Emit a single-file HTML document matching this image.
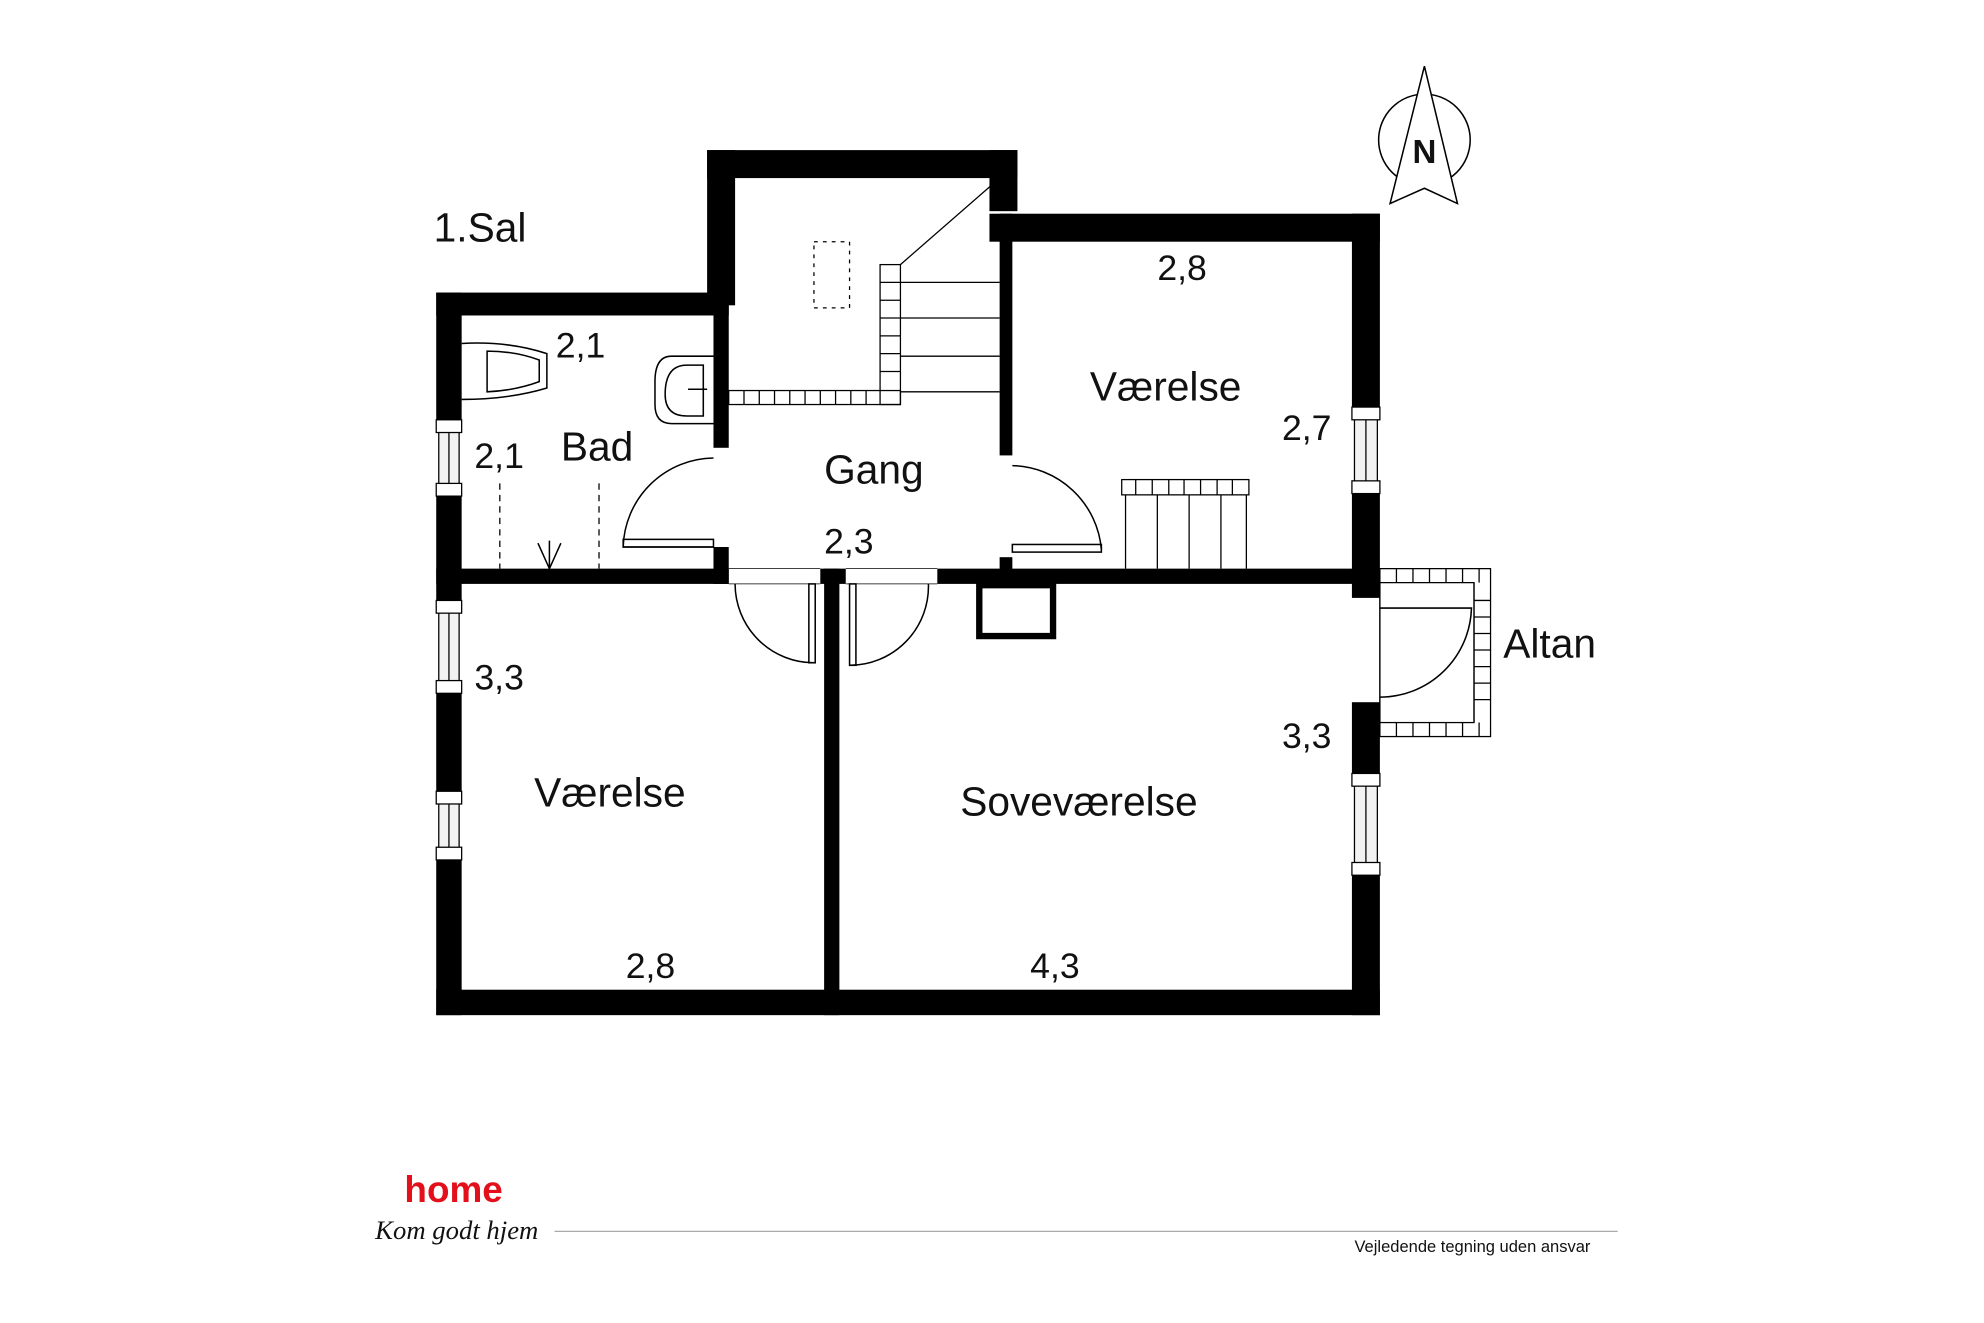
<!DOCTYPE html>
<html><head><meta charset="utf-8"><style>
html,body{margin:0;padding:0;background:#fff}
svg{display:block}
text{font-family:"Liberation Sans","DejaVu Sans",sans-serif;fill:#111}
</style></head><body>
<svg width="1984" height="1323" viewBox="0 0 1560 1040" preserveAspectRatio="none" xmlns="http://www.w3.org/2000/svg">
<rect width="1560" height="1040" fill="#fff"/>
<g fill="#000">
<!-- left outer wall segments -->
<rect x="343" y="230" width="20" height="100"/>
<rect x="343" y="390" width="20" height="82"/>
<rect x="343" y="545" width="20" height="77"/>
<rect x="343" y="676" width="20" height="122"/>
<!-- bad top -->
<rect x="343" y="230" width="230" height="18"/>
<!-- stair walls -->
<rect x="556" y="118" width="22" height="122"/>
<rect x="556" y="118" width="244" height="22"/>
<rect x="778" y="118" width="22" height="48"/>
<!-- bad/gang wall -->
<rect x="561" y="240" width="12" height="112"/>
<rect x="561" y="430" width="12" height="29"/>
<!-- værelse top -->
<rect x="778" y="168" width="307" height="22"/>
<rect x="786" y="168" width="10" height="190"/>
<rect x="786" y="438" width="10" height="20"/>
<!-- right outer wall -->
<rect x="1063" y="168" width="22" height="152"/>
<rect x="1063" y="388" width="22" height="82"/>
<rect x="1063" y="552" width="22" height="56"/>
<rect x="1063" y="688" width="22" height="110"/>
<!-- middle wall -->
<rect x="343" y="447" width="230" height="12"/>
<rect x="645" y="447" width="20" height="12"/>
<rect x="737" y="447" width="348" height="12"/>
<rect x="648" y="447" width="12" height="351"/>
<!-- bottom -->
<rect x="343" y="778" width="742" height="20"/>
</g>
<!-- chimney -->
<rect x="770" y="460" width="58" height="40" fill="none" stroke="#000" stroke-width="5"/>
<!-- windows -->
<g fill="#f2f2f2" stroke="#000" stroke-width="1">
<rect x="345" y="330" width="16" height="60"/><rect x="345" y="472" width="16" height="73"/><rect x="345" y="622" width="16" height="54"/>
<rect x="1065" y="320" width="18" height="68"/><rect x="1065" y="608" width="18" height="80"/>
</g>
<g stroke="#000" fill="#fff" stroke-width="1">
<rect x="343" y="330" width="20" height="10"/><rect x="343" y="380" width="20" height="10"/>
<rect x="343" y="472" width="20" height="10"/><rect x="343" y="535" width="20" height="10"/>
<rect x="343" y="622" width="20" height="10"/><rect x="343" y="666" width="20" height="10"/>
<rect x="1063" y="320" width="22" height="10"/><rect x="1063" y="378" width="22" height="10"/>
<rect x="1063" y="608" width="22" height="10"/><rect x="1063" y="678" width="22" height="10"/>
<line x1="353" y1="340" x2="353" y2="380"/><line x1="353" y1="482" x2="353" y2="535"/><line x1="353" y1="632" x2="353" y2="666"/>
<line x1="1074" y1="330" x2="1074" y2="378"/><line x1="1074" y1="618" x2="1074" y2="678"/>
</g>
<!-- doors -->
<g fill="none" stroke="#000" stroke-width="1.2">
<path d="M561 360 A72 72 0 0 0 490 430 L561 430"/>
<rect x="490" y="424" width="71" height="6"/>
<path d="M796 366 A72 72 0 0 1 866 432"/>
<rect x="796" y="428" width="70" height="6"/>
<path d="M578 459 A62 62 0 0 0 640 521"/><rect x="636" y="459" width="5" height="62"/>
<path d="M730 459 A62 62 0 0 1 668 523"/><rect x="668" y="459" width="5" height="64"/>
<path d="M1085 478 L1157 478 A72 72 0 0 1 1085 548"/>
<line x1="573" y1="447" x2="645" y2="447" stroke-width=".6"/><line x1="573" y1="459" x2="645" y2="459" stroke-width=".6"/>
<line x1="665" y1="447" x2="737" y2="447" stroke-width=".6"/><line x1="665" y1="459" x2="737" y2="459" stroke-width=".6"/>
</g>
<!-- altan -->
<g fill="none" stroke="#000" stroke-width="1">
<rect x="1085" y="447" width="87" height="132"/>
<rect x="1085" y="458" width="74" height="110"/>
<path d="M1159 458 V568" stroke-dasharray="0"/>
</g>
<g stroke="#000" stroke-width="1">
<path d="M1098 447v11M1111 447v11M1124 447v11M1137 447v11M1150 447v11M1163 447v11M1098 568v11M1111 568v11M1124 568v11M1137 568v11M1150 568v11M1163 568v11M1159 472h13M1159 485h13M1159 498h13M1159 511h13M1159 524h13M1159 537h13M1159 550h13"/>
</g>
<!-- stairs -->
<g fill="none" stroke="#000" stroke-width="1">
<rect x="692" y="208" width="16" height="110"/>
<rect x="573" y="307" width="135" height="11"/>
<path d="M708 208 L786 140"/>
<path d="M708 222h78M708 250h78M708 280h78M708 308h78M692 222h16M692 236h16M692 250h16M692 264h16M692 278h16M692 292h16"/>
<path d="M585 307v11M597 307v11M609 307v11M621 307v11M633 307v11M645 307v11M657 307v11M669 307v11M681 307v11"/>
<rect x="640" y="190" width="28" height="52" stroke-dasharray="3 4"/>
</g>
<!-- bathroom fixtures -->
<g fill="none" stroke="#000" stroke-width="1.2">
<path d="M363 270 Q400 268 430 278 L430 305 Q400 314 363 314"/>
<path d="M383 276 Q405 276 424 283 L424 300 Q405 307 383 308 Z"/>
<path d="M561 280 L528 280 Q515 280 515 300 L515 318 Q515 333 528 333 L561 333"/>
<path d="M540 287 H553 V327 H540 Q523 327 523 310 Q523 287 540 287 Z"/>
<path d="M541 306h15"/>
<path d="M393 380V447M471 380V447" stroke-dasharray="5 4" stroke-width="1"/>
<path d="M423 427L432 447L441 427M432 447V425"/>
</g>
<!-- radiator -->
<g fill="none" stroke="#000" stroke-width="1">
<rect x="882" y="377" width="100" height="12"/>
<path d="M893 377v12M906 377v12M919 377v12M931 377v12M944 377v12M957 377v12M969 377v12"/>
<path d="M885 389V447M910 389V447M935 389V447M960 389V447M980 389V447"/>
</g>
<!-- north arrow -->
<g fill="none" stroke="#000" stroke-width="1.2">
<circle cx="1120" cy="110" r="36"/>
<path d="M1093 160 L1120 52 L1146 160 L1120 148 Z" fill="#fff"/>
</g>
<text x="1120" y="128" font-size="26" font-weight="bold" text-anchor="middle">N</text>
<!-- labels -->
<g font-size="30">
<text x="341" y="190" font-size="32">1.Sal</text>
<text x="437" y="281" font-size="28">2,1</text>
<text x="441" y="362" font-size="32">Bad</text>
<text x="373" y="368" font-size="28">2,1</text>
<text x="648" y="380" font-size="32">Gang</text>
<text x="648" y="435" font-size="28">2,3</text>
<text x="910" y="220" font-size="28">2,8</text>
<text x="857" y="315" font-size="32">Værelse</text>
<text x="1008" y="346" font-size="28">2,7</text>
<text x="1182" y="517" font-size="32">Altan</text>
<text x="373" y="542" font-size="28">3,3</text>
<text x="420" y="634" font-size="32">Værelse</text>
<text x="755" y="641" font-size="32">Soveværelse</text>
<text x="1008" y="588" font-size="28">3,3</text>
<text x="492" y="769" font-size="28">2,8</text>
<text x="810" y="769" font-size="28">4,3</text>
</g>
<!-- logo -->
<text x="318" y="945" font-size="29" font-weight="bold" style="fill:#e3101b">home</text>
<text x="295" y="974" font-size="21" font-style="italic" font-family="Liberation Serif,serif" style="font-family:'Liberation Serif',serif">Kom godt hjem</text>
<line x1="436" y1="968" x2="1272" y2="968" stroke="#aaa" stroke-width="1"/>
<text x="1065" y="984" font-size="13">Vejledende tegning uden ansvar</text>
</svg>
</body></html>
